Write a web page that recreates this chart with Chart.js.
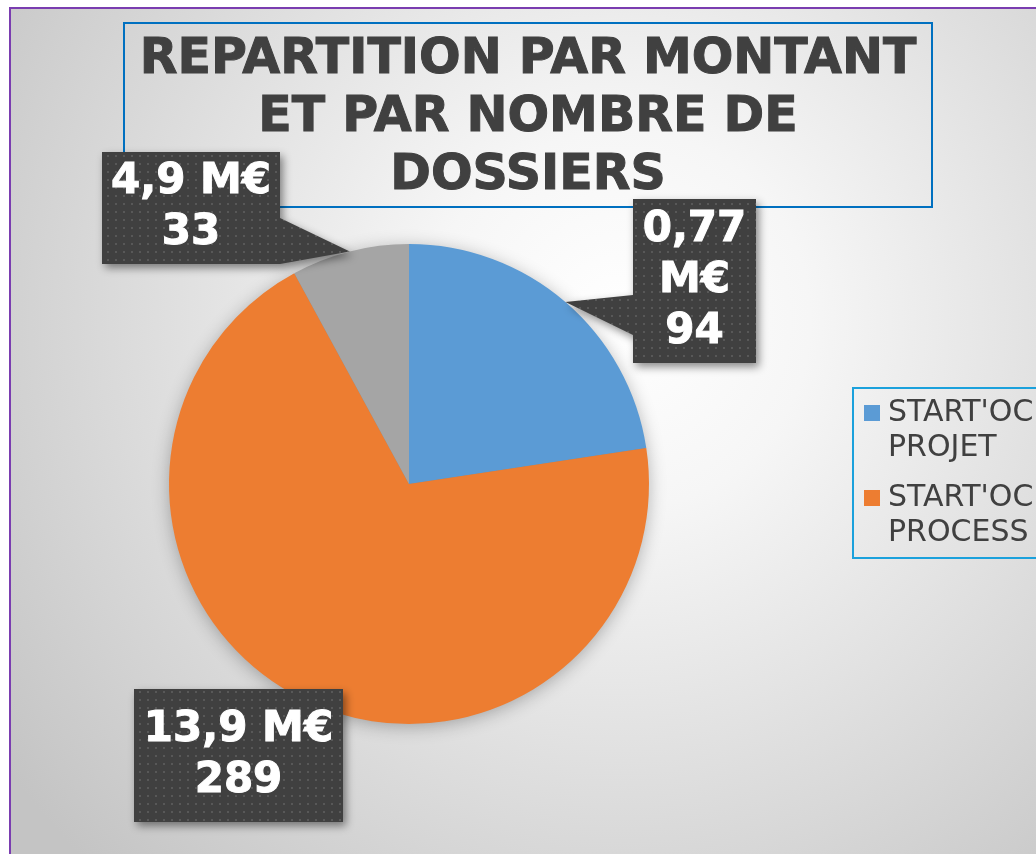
<!DOCTYPE html>
<html>
<head>
<meta charset="utf-8">
<script src="https://cdn.jsdelivr.net/npm/chart.js@4/dist/chart.umd.min.js"></script>
<style>
  body { margin: 0; background: #fff; }
  canvas { display: block; }
</style>
</head>
<body>
<canvas id="myPieChart" width="1036" height="854"></canvas>
<script>
// data
var categories = ["START'OC PROJET", "START'OC PROCESS", "AUTRES"];
var dossiers = [94, 289, 33];
var montantLines = [["0,77", "M€"], ["13,9 M€"], ["4,9 M€"]];
var titleLines = ["REPARTITION PAR MONTANT", "ET PAR NOMBRE DE", "DOSSIERS"];
var legendLines = [["START'OC", "PROJET"], ["START'OC", "PROCESS"]];

var colors = ['#5b9bd5', '#ed7d31', '#a5a5a5'];
var dark = '#404040';

// callout boxes (x, y, w, h), tail side if it points to the slice
var boxes = [
	{x: 633, y: 199, w: 123, h: 164, tail: 'left'},
	{x: 134, y: 689, w: 209, h: 133, tail: null},
	{x: 102, y: 152, w: 178, h: 112, tail: 'right'}
];

function dotPattern(ctx){
	var c = document.createElement('canvas');
	c.width = 8; c.height = 8;
	var p = c.getContext('2d');
	p.fillStyle = dark;
	p.fillRect(0, 0, 8, 8);
	p.fillStyle = '#585858';
	p.fillRect(3, 3, 2, 2);
	return ctx.createPattern(c, 'repeat');
}

var decor = {
	id: 'decor',
	beforeDraw: function(chart){
		var ctx = chart.ctx;
		ctx.save();
		ctx.fillStyle = '#fff';
		ctx.fillRect(0, 0, chart.width, chart.height);
		var g = ctx.createRadialGradient(620, 320, 0, 620, 320, 760);
		g.addColorStop(0, '#ffffff');
		g.addColorStop(0.25, '#f6f6f6');
		g.addColorStop(1, '#c4c4c4');
		ctx.fillStyle = g;
		ctx.fillRect(10, 8, chart.width - 10, chart.height - 8);
		ctx.strokeStyle = '#7a3db0';
		ctx.lineWidth = 2;
		ctx.strokeRect(10, 8, chart.width + 10, chart.height + 10);

		// title
		ctx.strokeStyle = '#0070c0';
		ctx.lineWidth = 2;
		ctx.strokeRect(124, 23, 808, 184);
		ctx.fillStyle = dark;
		ctx.strokeStyle = dark;
		ctx.lineWidth = 1;
		ctx.font = 'bold 49px "DejaVu Sans"';
		ctx.textAlign = 'center';
		ctx.textBaseline = 'middle';
		for(var i in titleLines){
			ctx.fillText(titleLines[i], 528, 60 + i * 58);
			ctx.strokeText(titleLines[i], 528, 60 + i * 58);
		}
		ctx.restore();
	},
	beforeDatasetsDraw: function(chart){
		var arc = chart.getDatasetMeta(0).data[0];
		var ctx = chart.ctx;
		ctx.save();
		ctx.shadowColor = 'rgba(0,0,0,0.3)';
		ctx.shadowBlur = 18;
		ctx.shadowOffsetY = 3;
		ctx.fillStyle = '#888';
		ctx.beginPath();
		ctx.arc(arc.x, arc.y, arc.outerRadius - 1, 0, Math.PI * 2);
		ctx.fill();
		ctx.restore();
	},
	afterDatasetsDraw: function(chart){
		var ctx = chart.ctx;
		var meta = chart.getDatasetMeta(0);
		var pat = dotPattern(ctx);
		ctx.save();
		for(var i in boxes){
			var b = boxes[i];
			var a = meta.data[i];
			var mid = (a.startAngle + a.endAngle) / 2;
			var tx = a.x + Math.cos(mid) * a.outerRadius;
			var ty = a.y + Math.sin(mid) * a.outerRadius;
			ctx.beginPath();
			ctx.moveTo(b.x, b.y);
			ctx.lineTo(b.x + b.w, b.y);
			if(b.tail == 'right'){
				ctx.lineTo(b.x + b.w, b.y + b.h - 46);
				ctx.lineTo(tx, ty);
			}
			ctx.lineTo(b.x + b.w, b.y + b.h);
			ctx.lineTo(b.x, b.y + b.h);
			if(b.tail == 'left'){
				ctx.lineTo(b.x, b.y + b.h - 28);
				ctx.lineTo(tx, ty);
				ctx.lineTo(b.x, b.y + b.h - 68);
			}
			ctx.closePath();
			ctx.shadowColor = 'rgba(0,0,0,0.45)';
			ctx.shadowBlur = 8;
			ctx.shadowOffsetX = 3;
			ctx.shadowOffsetY = 4;
			ctx.fillStyle = pat;
			ctx.fill();
			ctx.shadowColor = 'transparent';

			var lines = montantLines[i].concat([String(dossiers[i])]);
			ctx.fillStyle = '#fff';
			ctx.strokeStyle = '#fff';
			ctx.lineWidth = 1;
			ctx.font = 'bold 42px "DejaVu Sans"';
			ctx.textAlign = 'center';
			ctx.textBaseline = 'middle';
			var cx = b.x + b.w / 2;
			var top = b.y + b.h / 2 - (lines.length - 1) * 51 / 2;
			for(var j = 0; j < lines.length; j++){
				ctx.fillText(lines[j], cx, top + j * 51);
				ctx.strokeText(lines[j], cx, top + j * 51);
			}
		}

		// legend
		ctx.strokeStyle = '#1ba1dc';
		ctx.lineWidth = 2;
		ctx.strokeRect(853, 388, 200, 170);
		ctx.font = '30px "DejaVu Sans"';
		ctx.textAlign = 'left';
		ctx.textBaseline = 'middle';
		for(var k in legendLines){
			var y0 = 413 + k * 85;
			ctx.fillStyle = colors[k];
			ctx.fillRect(864, y0 - 8, 16, 16);
			ctx.fillStyle = dark;
			ctx.fillText(legendLines[k][0], 888, y0);
			ctx.fillText(legendLines[k][1], 888, y0 + 35);
		}
		ctx.restore();
	}
};

var ctx = document.getElementById('myPieChart');
var pieChart = new Chart(ctx, {
	type: 'pie',
	data: {
		labels: categories,
		datasets: [{
			data: dossiers,
			backgroundColor: colors,
			borderWidth: 0
		}]
	},
	options: {
		responsive: false,
		devicePixelRatio: 1,
		animation: false,
		layout: { padding: { left: 169, right: 387, top: 244, bottom: 130 } },
		plugins: {
			legend: { display: false },
			title: { display: false },
			tooltip: { enabled: false }
		}
	},
	plugins: [decor]
});
</script>
</body>
</html>
